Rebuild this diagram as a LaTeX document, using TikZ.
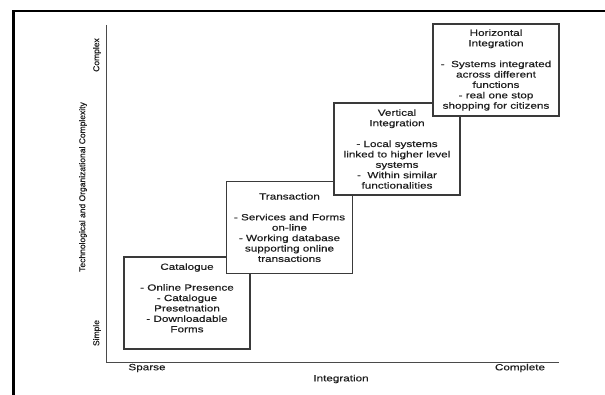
\documentclass[tikz,border=0pt]{standalone}
\usepackage{fontspec}
\setmainfont{Liberation Sans}[FakeStretch=1.3, FakeBold=0.4]
\newfontfamily\axisfont{Liberation Sans}[FakeBold=0.6]
\usetikzlibrary{arrows.meta, positioning}
\definecolor{boxline}{HTML}{3A3A3A}
\definecolor{axisline}{HTML}{4A4A4A}
\definecolor{textdark}{HTML}{1E1E1E}
\begin{document}
\begin{tikzpicture}[x=1pt, y=-1pt,
    stage/.style={draw=boxline, line width=1.1pt, fill=white, minimum width=126pt, minimum height=92pt, inner sep=0pt, align=center, text=textdark, font=\fontsize{9}{10.4}\selectfont},
    axlab/.style={font=\fontsize{9}{10}\selectfont, text=textdark, inner sep=0pt},
    sidelab/.style={font=\axisfont\fontsize{8.5}{10}\selectfont, text=textdark, rotate=90, inner sep=0pt}]
  \useasboundingbox (0,0) rectangle (605,395);
  \coordinate (framecorner) at (13.5,11);
  \draw[line width=2.4pt, black] (framecorner |- 0,400) -- (framecorner) -- (610,11);
  \coordinate (origin) at (106,362);
  \coordinate (ytop) at (106,25);
  \coordinate (xend) at (559,362);
  \draw[axisline, line width=0.9pt] (ytop) -- (origin) -- (xend);
  \node[axlab] (sparse) at (147,368) {Sparse};
  \node[axlab] (complete) at (520,368) {Complete};
  \node[axlab] (integ) at (341,379) {Integration};
  \node[sidelab] (complexity) at (83,187) {Technological and Organizational Complexity};
  \node[sidelab] (complex) at (97,55) {Complex};
  \node[sidelab] (simple) at (97,333) {Simple};
  \node[stage] (catalogue) at (187,303) {Catalogue\\[10.4pt]- Online Presence\\- Catalogue\\Presetnation\\- Downloadable\\Forms\\\mbox{}};
  \node[stage] (transaction) at (289.5,227.5) {Transaction\\[10.4pt]- Services and Forms\\on-line\\- Working database\\supporting online\\transactions};
  \node[stage] (vertical) at (397,149) {Vertical\\Integration\\[10.4pt]- Local systems\\linked to higher level\\systems\\- \ Within similar\\functionalities};
  \node[stage] (horizontal) at (496,70) {Horizontal\\Integration\\[10.4pt]- \ Systems integrated\\across different\\functions\\- real one stop\\shopping for citizens};
\end{tikzpicture}
\end{document}
